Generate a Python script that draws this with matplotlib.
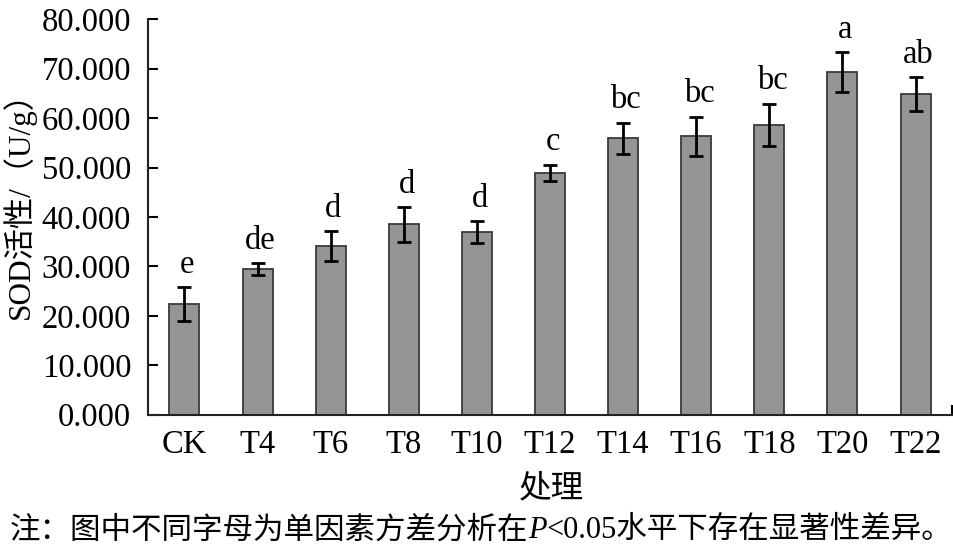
import numpy as np
import matplotlib
matplotlib.use("Agg")
import matplotlib.pyplot as plt

treatments = ["CK", "T4", "T6", "T8", "T10", "T12", "T14", "T16", "T18", "T20", "T22"]
sod = [22.4, 29.5, 34.1, 38.5, 36.9, 48.9, 55.9, 56.3, 58.6, 69.3, 64.9]
sod_err = [3.35, 1.15, 3.0, 3.5, 2.2, 1.6, 3.1, 3.95, 4.3, 4.05, 3.4]
letters = ["e", "de", "d", "d", "d", "c", "bc", "bc", "bc", "a", "ab"]
yticks = [0, 10, 20, 30, 40, 50, 60, 70, 80]

plt.rcParams["font.family"] = ["Liberation Serif", "Noto Sans CJK SC"]
fs = 23.5

fig = plt.figure(figsize=(9.54, 5.5), dpi=100)
ax = fig.add_axes([0.155, 0.246, 0.843, 0.719])

x = np.arange(len(treatments))
ax.bar(x, sod, width=0.41, color="#959595", edgecolor="#3a3a3a", linewidth=1.3, zorder=2)
ax.errorbar(x, sod, yerr=sod_err, fmt="none", ecolor="black", elinewidth=2,
            capsize=5, capthick=2, zorder=3)

for xi, v, e, lab in zip(x, sod, sod_err, letters):
    ax.annotate(lab, (xi, v + e), xytext=(2, 10.5), textcoords="offset points",
                ha="center", va="baseline", fontsize=fs)

ax.set_xlim(-0.5, len(treatments) - 0.5)
ax.set_ylim(0, 80)
ax.set_yticks(yticks)
ax.set_yticklabels([f"{t:.3f}" for t in yticks], fontsize=fs)
ax.set_xticks(x)
ax.set_xticklabels(treatments, fontsize=fs)
ax.tick_params(axis="x", length=0, pad=11)
ax.tick_params(axis="y", direction="in", length=7, width=1.5, pad=12)
ax.set_xticks([len(treatments) - 0.5], minor=True)
ax.tick_params(axis="x", which="minor", direction="in", length=7, width=1.5)

for side in ["top", "right"]:
    ax.spines[side].set_visible(False)
for side in ["left", "bottom"]:
    ax.spines[side].set_linewidth(1.5)
    ax.spines[side].set_color("#222222")

ax.set_ylabel("SOD活性/（U/g）", fontsize=22.5)
ax.yaxis.set_label_coords(-0.139, 0.55)
fig.text(0.578, 0.11, "处理", fontsize=fs, ha="center", va="center")

# footnote with italic P, built in pieces
renderer = fig.canvas.get_renderer()
parts = [("注：图中不同字母为单因素方差分析在", "normal"), ("P", "italic"),
         ("<0.05水平下存在显著性差异。", "normal")]
xpos = 0.01
for txt, style in parts:
    t = fig.text(xpos, 0.035, txt, fontsize=22, style=style, ha="left", va="center")
    bb = t.get_window_extent(renderer=renderer)
    xpos = fig.transFigure.inverted().transform((bb.x1, bb.y0))[0]

fig.savefig("out.png", dpi=100)
